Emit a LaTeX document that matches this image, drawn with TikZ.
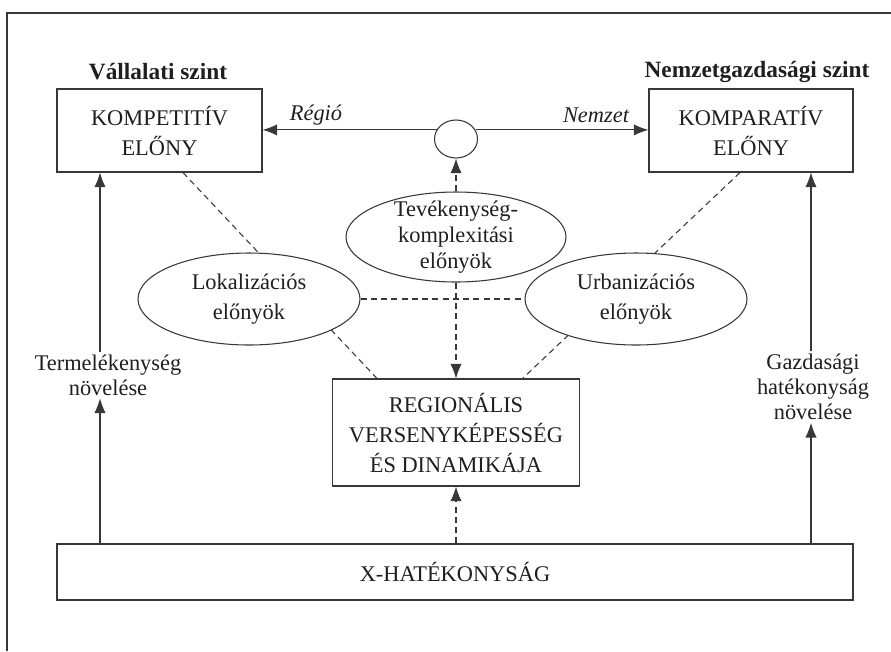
\documentclass[tikz,border=0pt]{standalone}
\usepackage{fontspec}
\setmainfont{Liberation Serif}
\usetikzlibrary{shapes.geometric,arrows.meta}
\begin{document}
\begin{tikzpicture}[x=0.75pt,y=-0.75pt,
  every node/.style={font=\fontsize{16.8}{22.5}\selectfont, text=black!88},
  line/.style={draw=black!78, line width=0.8pt},
  arr/.style={line, -{Latex[length=11pt,width=8.5pt]}},
  dsh/.style={line, dash pattern=on 4.5pt off 3.2pt},
  darr/.style={dsh, -{Latex[length=11pt,width=8.5pt]}},
  box/.style={line, rectangle, align=center, inner sep=0pt, fill=white},
  oval/.style={line, ellipse, align=center, inner sep=0pt, fill=white},
  lbl/.style={align=center, inner sep=2pt, font=\fontsize{16.8}{18.75}\selectfont},
  title/.style={font=\fontsize{17.5}{20}\selectfont\bfseries},
  tag/.style={font=\fontsize{16.8}{20}\selectfont\itshape}
]
\useasboundingbox (0,0) rectangle (891,651);

% frame
\draw[line] (7,651) -- (7,13) -- (891,13);

% level titles
\node[title] (vall) at (158,72) {Vállalati szint};
\node[title] (nemz) at (757,72) {Nemzetgazdasági szint};

% boxes
\node[box, minimum width=153.75pt, minimum height=62.25pt] (kompet) at (159.5,130.5) {KOMPETITÍV\\ELŐNY};
\node[box, minimum width=153pt, minimum height=62.25pt] (kompar) at (751,130.5) {KOMPARATÍV\\ELŐNY};
\node[box, minimum width=185.25pt, minimum height=80.25pt] (reg) at (456,432.5) {REGIONÁLIS\\VERSENYKÉPESSÉG\\ÉS DINAMIKÁJA};
\node[box, minimum width=597pt, minimum height=42pt] (xbox) at (455,572) {X-HATÉKONYSÁG};

% dashed links passing behind the ellipses
\draw[dsh] ([xshift=17.6pt]kompet.south) -- ([xshift=-59.25pt]reg.north);
\draw[dsh] ([xshift=-8.25pt]kompar.south) -- ([xshift=49.9pt]reg.north);

% ellipses
\node[oval, minimum width=32.25pt, minimum height=28.5pt] (circ) at (456,139) {};
\node[oval, minimum width=165pt, minimum height=67.5pt, inner ysep=-4pt,
      font=\fontsize{16.8}{19.5}\selectfont] (tev) at (456,237) {Tevékenység-\\komplexitási\\előnyök};
\node[oval, minimum width=166.5pt, minimum height=69pt] (loka) at (249,299) {Lokalizációs\\előnyök};
\node[oval, minimum width=166.5pt, minimum height=69pt] (urb) at (636,299) {Urbanizációs\\előnyök};

% side labels
\node[lbl] (term) at (108,375) {Termelékenység\\növelése};
\node[lbl] (gazd) at (813,387) {Gazdasági\\hatékonyság\\növelése};
\coordinate (lx) at (100,0);
\coordinate (rx) at (811,0);

% arrow labels
\node[tag] (regio) at (316,115) {Régió};
\node[tag] (nemzet) at (596,115) {Nemzet};

% connectors
\draw[arr] (circ.155) -- (circ.155 -| kompet.east);
\draw[arr] (circ.25) -- (circ.25 -| kompar.west);
\draw[darr] (tev.north) -- (circ.south);
\draw[darr] (tev.south) -- (tev.south |- reg.north);
\draw[dsh] (loka.east) -- (urb.west);
\draw[darr] (xbox.north -| reg.south) -- (reg.south);

\draw[arr] (xbox.north -| lx) -- (term.south -| lx);
\draw[arr] (term.north -| lx) -- (kompet.south -| lx);
\draw[arr] (xbox.north -| rx) -- (gazd.south -| rx);
\draw[arr] (gazd.north -| rx) -- (kompar.south -| rx);
\end{tikzpicture}
\end{document}
